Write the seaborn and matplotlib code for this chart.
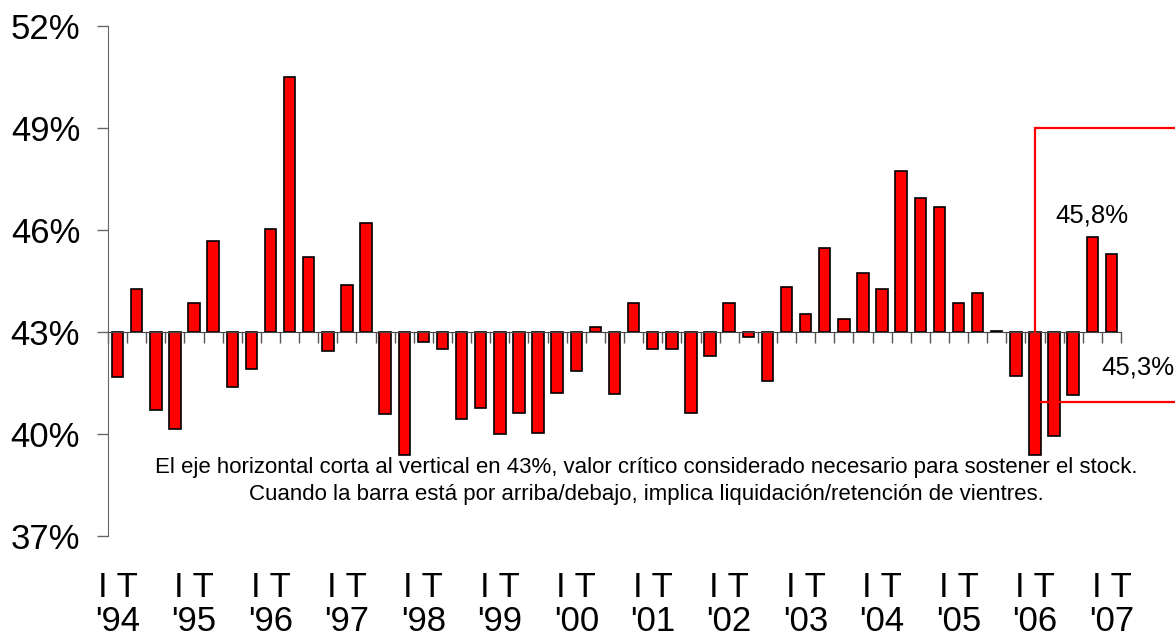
import seaborn as sns
import matplotlib
matplotlib.use('Agg')
import matplotlib.pyplot as plt
import matplotlib.patches as mpatches
import matplotlib.transforms as mtransforms
from matplotlib.ticker import FuncFormatter
import numpy as np
import pandas as pd

# critical level where horizontal axis crosses
BASE = 43.0

# quarterly values (%), I T 1994 .. I T 2007
values = [41.67, 44.26, 40.71, 40.15, 43.83, 45.66, 41.36, 41.89, 46.02, 50.50,
          45.20, 42.43, 44.36, 46.19, 40.59, 39.38, 42.71, 42.50, 40.42, 40.77,
          40.00, 40.62, 40.03, 41.21, 41.84, 43.15, 41.18, 43.84, 42.48, 42.48,
          40.62, 42.29, 43.85, 42.85, 41.54, 44.31, 43.53, 45.46, 43.37, 44.73,
          44.26, 47.72, 46.94, 46.67, 43.84, 44.15, 43.03, 41.71, 39.36, 39.94,
          41.14, 45.80, 45.30]
year_labels = ["'94", "'95", "'96", "'97", "'98", "'99", "'00", "'01",
               "'02", "'03", "'04", "'05", "'06", "'07"]
quarter_label = 'I T'
y_ticks = [37, 40, 43, 46, 49, 52]
note = ('El eje horizontal corta al vertical en 43%, valor crítico considerado necesario para sostener el stock.\n'
        'Cuando la barra está por arriba/debajo, implica liquidación/retención de vientres.')
label_last = '45,8%'
label_prev = '45,3%'

sns.set_style('white')
plt.rcParams['font.family'] = ['Liberation Sans', 'DejaVu Sans']
plt.rcParams['text.color'] = 'black'

df = pd.DataFrame({'q': np.arange(len(values)), 'delta': np.array(values) - BASE})

fig = plt.figure(figsize=(11.75, 6.4), dpi=100)
ax = fig.add_axes([108 / 1175, 104.3 / 640, (1121 - 108) / 1175, 510 / 640])

sns.barplot(data=df, x='q', y='delta', color='#ff0000', saturation=1, width=0.6,
            edgecolor='black', linewidth=1.2, ax=ax, zorder=2)

ax.set_xlim(-0.5, len(values) - 0.5)
ax.set_ylim(y_ticks[0] - BASE, y_ticks[-1] - BASE)
ax.set_xlabel('')
ax.set_ylabel('')

for s in ['top', 'right']:
    ax.spines[s].set_visible(False)
ax.spines['bottom'].set_position(('data', 0))
ax.spines['bottom'].set_color('#444444')
ax.spines['left'].set_color('#666666')

ax.set_yticks([t - BASE for t in y_ticks])
ax.yaxis.set_major_formatter(FuncFormatter(lambda v, p: '{:.0f}%'.format(v + BASE)))
ax.tick_params(axis='y', direction='out', length=8, width=1, color='#666666',
               labelsize=25, labelcolor='black', pad=12, left=True)
ax.set_xticks(np.arange(-0.5, len(values), 1))
ax.set_xticklabels([])
ax.tick_params(axis='x', direction='out', length=8, width=1, color='#555555', bottom=True)

# category labels at the bottom of the plot
trans = mtransforms.blended_transform_factory(ax.transData, ax.transAxes)
for i, yl in enumerate(year_labels):
    ax.text(i * 4, -0.12, quarter_label, transform=trans, ha='center', va='baseline', fontsize=25)
    ax.text(i * 4, -0.187, yl, transform=trans, ha='center', va='baseline', fontsize=25)

# highlight box around the latest quarters
rect = mpatches.Rectangle((48, 40.92 - BASE), 12, 49 - 40.92, fill=False, edgecolor='#ff0000',
                          linewidth=1.6, clip_on=False, zorder=3)
ax.add_patch(rect)

fig.text(1091.7 / 1175, 1 - 215 / 640, label_last, ha='center', va='center', fontsize=18.5)
fig.text(1175 / 1175, 1 - 368 / 640, label_prev, ha='right', va='center', fontsize=18.5)
fig.text(646 / 1175, 1 - 481 / 640, note, ha='center', va='center', fontsize=16, linespacing=1.4)

fig.savefig('out.png', dpi=100)
